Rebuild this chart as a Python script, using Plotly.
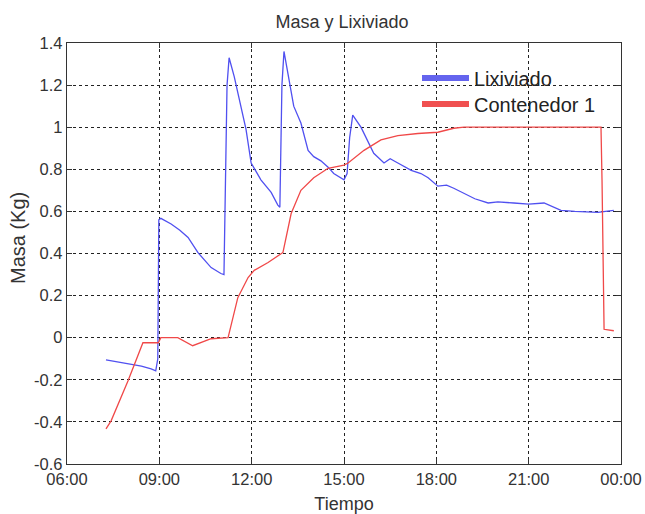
import plotly.graph_objects as go

DAY = "2013-01-01 "
NEXT = "2013-01-02 "

# Lixiviado (blue) — times HH:MM, mass in kg
lix_time = ["07:16", "07:40", "08:05", "08:25", "08:44", "08:53", "08:57", "08:59", "09:03", "09:23",
            "09:40", "09:56", "10:15", "10:41", "11:00", "11:06", "11:12", "11:16", "11:26",
            "11:39", "11:49", "11:59", "12:18", "12:38", "12:51", "12:55", "12:59", "13:03",
            "13:13", "13:22", "13:36", "13:50", "14:01", "14:15", "14:29", "14:40", "15:00", "15:06",
            "15:11", "15:17", "15:33", "15:58", "16:18", "16:30", "16:45", "17:00", "17:11", "17:30",
            "17:44", "18:03", "18:20", "18:34", "18:54", "19:15", "19:41", "20:00", "20:31",
            "21:00", "21:30", "21:43", "22:03", "22:30", "23:00", "23:15", "23:30", "23:46"]
lix_mass = [-0.105, -0.115, -0.125, -0.135, -0.148, -0.157, -0.10, 0.56, 0.567, 0.54,
            0.51, 0.476, 0.405, 0.333, 0.305, 0.30, 1.20, 1.33, 1.24,
            1.10, 0.99, 0.83, 0.75, 0.69, 0.63, 0.62, 1.20, 1.36,
            1.22, 1.10, 1.02, 0.89, 0.86, 0.84, 0.81, 0.78, 0.75, 0.78,
            0.95, 1.057, 1.00, 0.876, 0.83, 0.85, 0.83, 0.81, 0.795, 0.78,
            0.76, 0.72, 0.725, 0.71, 0.685, 0.66, 0.64, 0.645, 0.64,
            0.635, 0.64, 0.625, 0.605, 0.60, 0.595, 0.595, 0.60, 0.605]

# Contenedor 1 (red)
con_time = ["07:16", "07:26", "07:59", "08:28", "08:58", "09:03", "09:36", "10:05", "10:41",
            "11:14", "11:33", "11:53", "12:05", "12:32", "13:01", "13:17", "13:36", "14:01",
            "14:29", "15:00", "15:08", "15:39", "16:12", "16:45", "17:24", "18:03", "18:34",
            "18:54", "20:00", "22:03", "23:02", "23:21", "23:23", "23:25", "23:27", "23:46"]
con_mass = [-0.433, -0.395, -0.205, -0.024, -0.024, 0.0, 0.0, -0.038, -0.005,
            0.0, 0.19, 0.286, 0.32, 0.357, 0.405, 0.59, 0.70, 0.76,
            0.805, 0.82, 0.83, 0.89, 0.94, 0.96, 0.97, 0.976, 0.995,
            1.0, 1.0, 1.0, 1.003, 1.0, 0.75, 0.28, 0.04, 0.033]

series_names = ["Lixiviado", "Contenedor 1"]
series_colors = ["#5050f0", "#f04848"]

x_ticks = ["06:00", "09:00", "12:00", "15:00", "18:00", "21:00", "00:00"]
y_ticks = [-0.6, -0.4, -0.2, 0, 0.2, 0.4, 0.6, 0.8, 1, 1.2, 1.4]


def ts(hhmm):
    return DAY + hhmm


fig = go.Figure()
for name, color, times, vals in [(series_names[0], series_colors[0], lix_time, lix_mass),
                                 (series_names[1], series_colors[1], con_time, con_mass)]:
    fig.add_trace(go.Scatter(x=[ts(t) for t in times], y=vals, mode="lines",
                             line=dict(color=color, width=1.3), showlegend=False, name=name))
# legend-only entries with thick lines, one legend box each
legend_colors = ["#6464ee", "#f05050"]
for name, color, lg in zip(series_names, legend_colors, ["legend", "legend2"]):
    fig.add_trace(go.Scatter(x=[None], y=[None], mode="lines", name=name, legend=lg,
                             line=dict(color=color, width=6)))

tickvals = [DAY + t for t in x_ticks[:-1]] + [NEXT + x_ticks[-1]]
font_family = "Liberation Sans, Arial, sans-serif"
axis_common = dict(showline=True, linecolor="#333", linewidth=1.3, mirror="ticks",
                   ticks="inside", ticklen=5, tickcolor="#333", automargin=False,
                   showgrid=True, gridcolor="#222222", griddash="dot", gridwidth=1,
                   zeroline=False, tickfont=dict(size=16.5, color="#333", family=font_family))

W, HT = 645, 514
PL, PR, PT, PB = 67, 621, 43, 464
H = PB - PT
legend_common = dict(xanchor="left", yanchor="middle", bgcolor="rgba(0,0,0,0)",
                     font=dict(size=20, color="#222"), itemwidth=47)

fig.update_layout(
    width=W, height=HT,
    margin=dict(l=PL, r=W - PR, t=PT, b=HT - PB),
    paper_bgcolor="white", plot_bgcolor="white",
    font=dict(family=font_family, color="#222"),
    title=dict(text="Masa y Lixiviado", x=342 / W, xanchor="center",
               y=1 - 22 / HT, yanchor="middle", font=dict(size=18, color="#333")),
    xaxis=dict(range=[DAY + "06:00", NEXT + "00:00"], tickvals=tickvals, ticktext=x_ticks,
               title=dict(text="Tiempo", font=dict(size=18, color="#333")), **axis_common),
    yaxis=dict(range=[-0.6, 1.4], tickvals=y_ticks, ticktext=[f"{v:g}" for v in y_ticks],
               **axis_common),
    legend=dict(x=(417 - PL) / (PR - PL), y=(PB - 78) / H, **legend_common),
    legend2=dict(x=(417 - PL) / (PR - PL), y=(PB - 104) / H, **legend_common),
    annotations=[dict(text="Masa (Kg)", textangle=-90, xref="paper", yref="paper",
                      x=(18 - PL) / (PR - PL), y=(PB - 238) / H, xanchor="center",
                      yanchor="middle", showarrow=False, font=dict(size=20, color="#333"))],
)

fig.write_html("out.html", config={"displayModeBar": False},
               post_script="document.body.style.margin='0';")
